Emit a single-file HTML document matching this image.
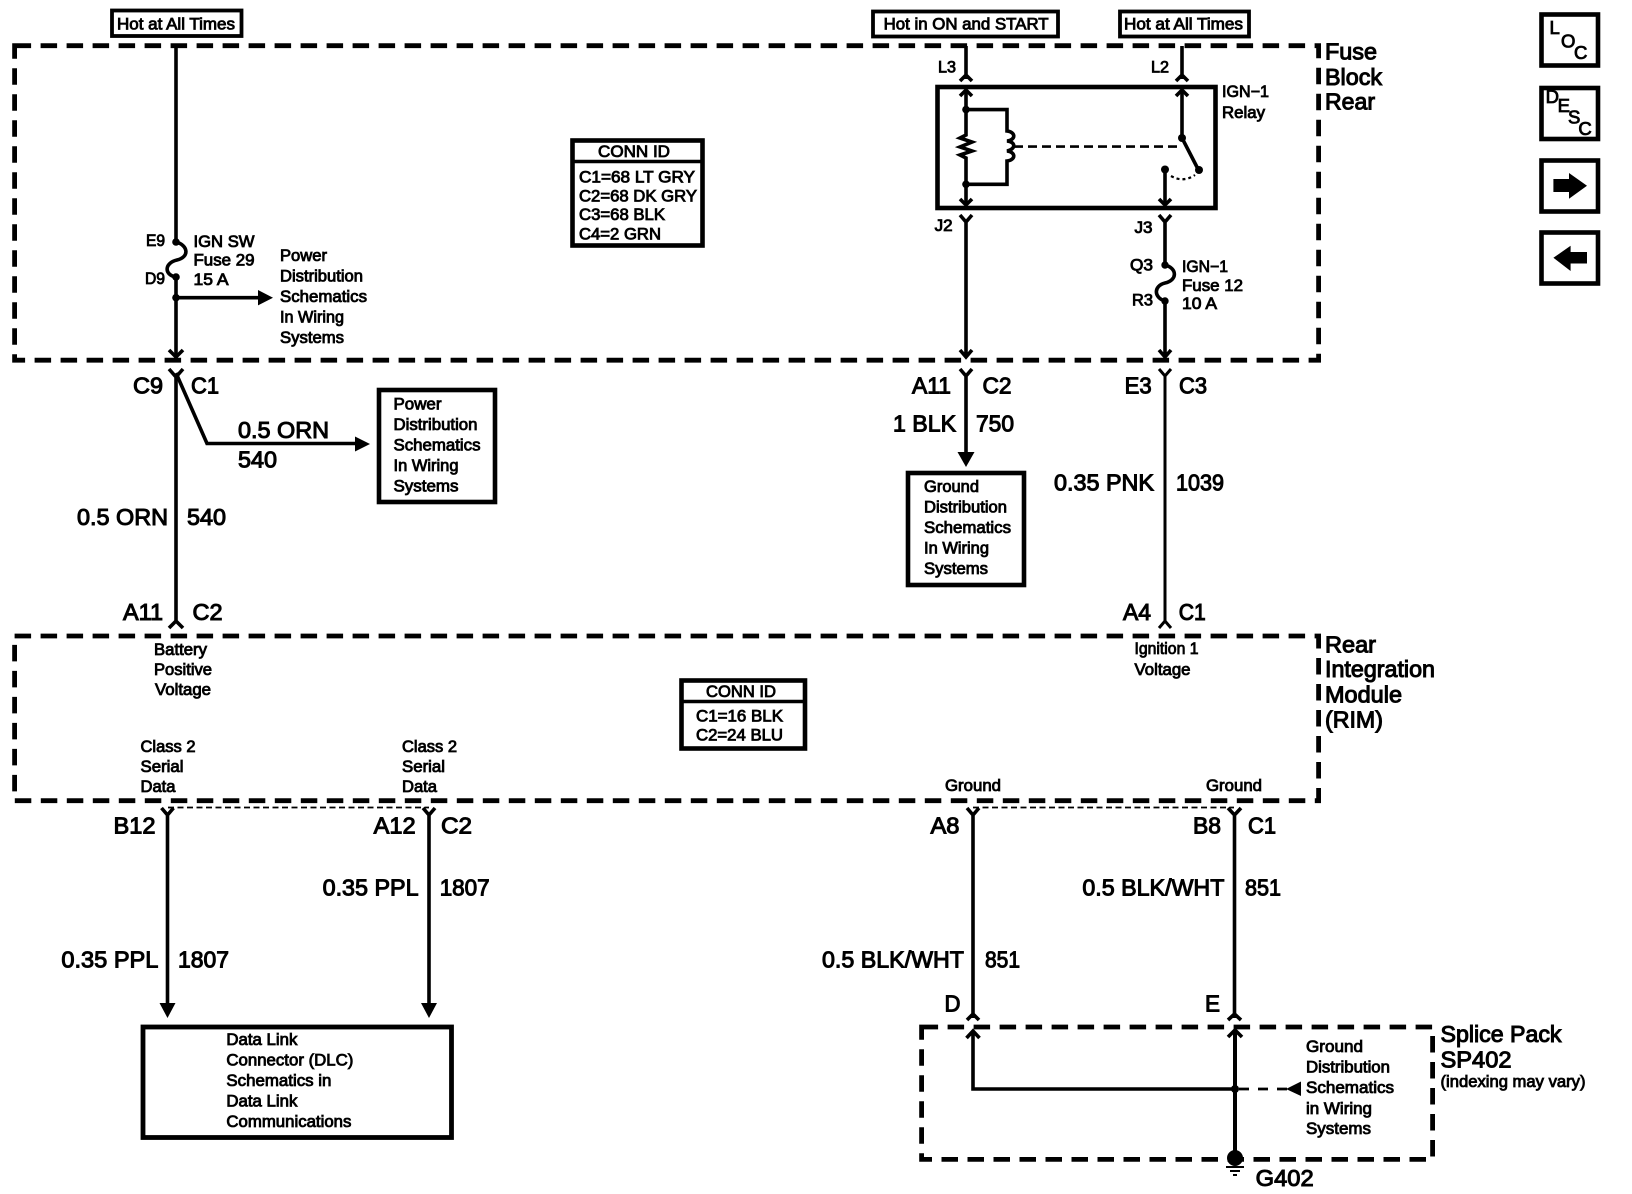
<!DOCTYPE html>
<html><head><meta charset="utf-8"><title>Wiring schematic</title>
<style>
html,body{margin:0;padding:0;background:#fff}
svg{display:block}
text{font-family:"Liberation Sans",sans-serif;fill:#000;stroke:#000}
.s{font-size:16.5px;stroke-width:.85;transform:translateY(-1px)}
.l{font-size:23.5px;stroke-width:1.05;transform:translateY(-.5px)}
.w{fill:none;stroke:#000;stroke-width:3.6}
.t{fill:none;stroke:#000;stroke-width:3}
.b{fill:#fff;stroke:#000;stroke-width:4.6}
.d{fill:none;stroke:#000;stroke-width:4.8;stroke-dasharray:16.5 9.5}
.h{fill:none;stroke:#000;stroke-width:1.7;stroke-dasharray:6 3.5}
.k{fill:#000;stroke:none}
</style></head><body>
<svg width="1632" height="1194" viewBox="0 0 1632 1194" xmlns="http://www.w3.org/2000/svg">
<rect width="1632" height="1194" fill="#fff"/>

<!-- dashed module boxes -->
<rect class="d" x="14.6" y="45.7" width="1304" height="314.5"/>
<rect class="d" x="14.6" y="636" width="1304" height="164.7"/>
<rect class="d" x="921.6" y="1027" width="511" height="132.4"/>
<path class="h" d="M168 807.5H429M973 807.5H1234"/>

<!-- power tags -->
<rect x="112" y="10.5" width="129.5" height="25.5" fill="#fff" stroke="#000" stroke-width="3.8"/>
<rect x="873" y="11.5" width="185" height="25" fill="#fff" stroke="#000" stroke-width="3.8"/>
<rect x="1120" y="11.5" width="129" height="25" fill="#fff" stroke="#000" stroke-width="3.8"/>
<text class="s" x="117" y="30.5" textLength="118" lengthAdjust="spacingAndGlyphs">Hot at All Times</text>
<text class="s" x="883.6" y="30.5" textLength="165" lengthAdjust="spacingAndGlyphs">Hot in ON and START</text>
<text class="s" x="1124" y="30.5" textLength="119" lengthAdjust="spacingAndGlyphs">Hot at All Times</text>

<!-- left wire with fuse -->
<path class="w" d="M176 46V242C188 245 190 257 177 260C164 263 164 275 176 277V358"/>
<circle class="k" cx="176" cy="242" r="3.8"/><circle class="k" cx="176" cy="277" r="3.8"/><circle class="k" cx="176" cy="297.7" r="3.8"/>
<path class="w" d="M176 297.7H260"/><path class="k" d="M273 297.7L258 290V305.4Z"/>
<path class="w" d="M169 350L176 357L183 350"/>
<path class="w" d="M169 369L176 377L183 369M176 375V622M169 628L176 621L183 628"/>
<path class="w" d="M176 373L207 443.5H358"/><path class="k" d="M370 444L355 436.5V451.5Z"/>

<text class="s" x="146" y="247" textLength="19" lengthAdjust="spacingAndGlyphs">E9</text>
<text class="s" x="145" y="285" textLength="20" lengthAdjust="spacingAndGlyphs">D9</text>
<text class="s" x="193.5" y="248" textLength="61" lengthAdjust="spacingAndGlyphs">IGN SW</text>
<text class="s" x="193.5" y="266.5" textLength="61" lengthAdjust="spacingAndGlyphs">Fuse 29</text>
<text class="s" x="193.5" y="286" textLength="35" lengthAdjust="spacingAndGlyphs">15 A</text>
<text class="s" x="280" y="262" textLength="47" lengthAdjust="spacingAndGlyphs">Power</text>
<text class="s" x="280" y="282.5" textLength="83" lengthAdjust="spacingAndGlyphs">Distribution</text>
<text class="s" x="280" y="303" textLength="87" lengthAdjust="spacingAndGlyphs">Schematics</text>
<text class="s" x="280" y="323.5" textLength="64" lengthAdjust="spacingAndGlyphs">In Wiring</text>
<text class="s" x="280" y="344" textLength="64" lengthAdjust="spacingAndGlyphs">Systems</text>

<text class="l" x="133" y="394" textLength="30" lengthAdjust="spacingAndGlyphs">C9</text>
<text class="l" x="191" y="394" textLength="28" lengthAdjust="spacingAndGlyphs">C1</text>
<text class="l" x="238" y="438.6" textLength="91" lengthAdjust="spacingAndGlyphs">0.5 ORN</text>
<text class="l" x="238" y="468" textLength="39" lengthAdjust="spacingAndGlyphs">540</text>
<text class="l" x="77" y="525.4" textLength="91" lengthAdjust="spacingAndGlyphs">0.5 ORN</text>
<text class="l" x="187" y="525.4" textLength="39" lengthAdjust="spacingAndGlyphs">540</text>
<text class="l" x="123" y="620.6" textLength="40" lengthAdjust="spacingAndGlyphs">A11</text>
<text class="l" x="192.5" y="620.6" textLength="30" lengthAdjust="spacingAndGlyphs">C2</text>

<!-- power distribution box -->
<rect class="b" x="379" y="390" width="116" height="112"/>
<text class="s" x="393.5" y="410.4" textLength="48" lengthAdjust="spacingAndGlyphs">Power</text>
<text class="s" x="393.5" y="431" textLength="84" lengthAdjust="spacingAndGlyphs">Distribution</text>
<text class="s" x="393.5" y="451.4" textLength="87" lengthAdjust="spacingAndGlyphs">Schematics</text>
<text class="s" x="393.5" y="472" textLength="65" lengthAdjust="spacingAndGlyphs">In Wiring</text>
<text class="s" x="393.5" y="492.5" textLength="65" lengthAdjust="spacingAndGlyphs">Systems</text>

<!-- conn id 1 -->
<rect class="b" x="572.5" y="140.5" width="130" height="105"/>
<path d="M573 161.5H702" stroke="#000" stroke-width="3.6"/>
<text class="s" x="598" y="158" textLength="72" lengthAdjust="spacingAndGlyphs">CONN ID</text>
<text class="s" x="579" y="183.5" textLength="116" lengthAdjust="spacingAndGlyphs">C1=68 LT GRY</text>
<text class="s" x="579" y="202.5" textLength="118" lengthAdjust="spacingAndGlyphs">C2=68 DK GRY</text>
<text class="s" x="579" y="221" textLength="86" lengthAdjust="spacingAndGlyphs">C3=68 BLK</text>
<text class="s" x="579" y="240.6" textLength="82" lengthAdjust="spacingAndGlyphs">C4=2 GRN</text>

<!-- relay -->
<path class="w" d="M966 46V79M960 81L966 75L972 81M1182 46V79M1176 81L1182 75L1188 81"/>
<text class="s" x="938" y="73.5" textLength="18" lengthAdjust="spacingAndGlyphs">L3</text>
<text class="s" x="1151" y="73.5" textLength="18" lengthAdjust="spacingAndGlyphs">L2</text>
<rect class="b" x="937.5" y="87" width="278" height="121"/>
<path class="w" d="M966 91V135L960 138L972 142L960 147L972 151L960 155L966 158V205"/>
<path class="w" d="M960 96L966 90L972 96M960 199L966 205L972 199M1176 96L1182 90L1188 96M1159 199L1165 205L1171 199"/>
<circle class="k" cx="966" cy="109.6" r="3.8"/><circle class="k" cx="966" cy="184.3" r="3.8"/>
<path class="w" d="M966 109.6H1007V131C1016 132 1016 140 1007 141C1016 142 1016 149 1007 151C1016 152 1016 160 1007 161V184.3H966"/>
<path d="M1014 146.6H1178" fill="none" stroke="#000" stroke-width="2.6" stroke-dasharray="9 5"/>
<path class="w" d="M1182 91V138L1198.5 170M1165 170V205"/>
<circle class="k" cx="1182" cy="138" r="4"/><circle class="k" cx="1199" cy="170" r="4"/><circle class="k" cx="1165" cy="169.5" r="4"/>
<path d="M1171 176Q1183 183 1195 175" fill="none" stroke="#000" stroke-width="2.2" stroke-dasharray="3 3"/>
<text class="s" x="1222" y="98" textLength="47" lengthAdjust="spacingAndGlyphs">IGN−1</text>
<text class="s" x="1222" y="119" textLength="43" lengthAdjust="spacingAndGlyphs">Relay</text>

<path class="w" d="M960 215L966 222L972 215M966 220V357M960 350L966 357L972 350"/>
<path class="w" d="M1159 215L1165 222L1171 215M1165 220V265C1177 268 1178 280 1165 283C1153 286 1154 298 1165 301V357M1159 350L1165 357L1171 350"/>
<circle class="k" cx="1165" cy="265" r="3.7"/><circle class="k" cx="1165" cy="301" r="3.7"/>
<text class="s" x="934.6" y="232" textLength="18" lengthAdjust="spacingAndGlyphs">J2</text>
<text class="s" x="1134.5" y="234" textLength="18" lengthAdjust="spacingAndGlyphs">J3</text>
<text class="s" x="1130" y="271.5" textLength="23" lengthAdjust="spacingAndGlyphs">Q3</text>
<text class="s" x="1132" y="306.5" textLength="21" lengthAdjust="spacingAndGlyphs">R3</text>
<text class="s" x="1182" y="273" textLength="46" lengthAdjust="spacingAndGlyphs">IGN−1</text>
<text class="s" x="1182" y="292" textLength="61" lengthAdjust="spacingAndGlyphs">Fuse 12</text>
<text class="s" x="1182" y="310" textLength="35" lengthAdjust="spacingAndGlyphs">10 A</text>

<text class="l" x="1325" y="60" textLength="52" lengthAdjust="spacingAndGlyphs">Fuse</text>
<text class="l" x="1325" y="85.7" textLength="57" lengthAdjust="spacingAndGlyphs">Block</text>
<text class="l" x="1325" y="110" textLength="50" lengthAdjust="spacingAndGlyphs">Rear</text>

<!-- center wires below fuse block -->
<path class="w" d="M960 369L966 376L972 369M966 374V455"/><path class="k" d="M966 467L957.5 452H974.5Z"/>
<path class="t" d="M1159 369L1165 376L1171 369M1165 374V622M1159 628L1165 621L1171 628"/>
<text class="l" x="912" y="394" textLength="39" lengthAdjust="spacingAndGlyphs">A11</text>
<text class="l" x="982.5" y="394" textLength="29" lengthAdjust="spacingAndGlyphs">C2</text>
<text class="l" x="1124.6" y="394" textLength="27" lengthAdjust="spacingAndGlyphs">E3</text>
<text class="l" x="1179" y="394" textLength="28" lengthAdjust="spacingAndGlyphs">C3</text>
<text class="l" x="893" y="432" textLength="63" lengthAdjust="spacingAndGlyphs">1 BLK</text>
<text class="l" x="976" y="432" textLength="38" lengthAdjust="spacingAndGlyphs">750</text>
<text class="l" x="1054" y="491" textLength="100" lengthAdjust="spacingAndGlyphs">0.35 PNK</text>
<text class="l" x="1176" y="491" textLength="48" lengthAdjust="spacingAndGlyphs">1039</text>
<text class="l" x="1123" y="620.6" textLength="28" lengthAdjust="spacingAndGlyphs">A4</text>
<text class="l" x="1178.7" y="620.6" textLength="27" lengthAdjust="spacingAndGlyphs">C1</text>

<rect class="b" x="908" y="473" width="116" height="112"/>
<text class="s" x="924" y="493" textLength="55" lengthAdjust="spacingAndGlyphs">Ground</text>
<text class="s" x="924" y="513.5" textLength="83" lengthAdjust="spacingAndGlyphs">Distribution</text>
<text class="s" x="924" y="534" textLength="87" lengthAdjust="spacingAndGlyphs">Schematics</text>
<text class="s" x="924" y="554.5" textLength="65" lengthAdjust="spacingAndGlyphs">In Wiring</text>
<text class="s" x="924" y="575" textLength="64" lengthAdjust="spacingAndGlyphs">Systems</text>

<!-- RIM -->
<text class="s" x="154" y="656" textLength="53" lengthAdjust="spacingAndGlyphs">Battery</text>
<text class="s" x="154" y="676" textLength="58" lengthAdjust="spacingAndGlyphs">Positive</text>
<text class="s" x="155" y="696" textLength="56" lengthAdjust="spacingAndGlyphs">Voltage</text>
<text class="s" x="140.5" y="753" textLength="55" lengthAdjust="spacingAndGlyphs">Class 2</text>
<text class="s" x="140.5" y="773" textLength="43" lengthAdjust="spacingAndGlyphs">Serial</text>
<text class="s" x="140.5" y="793" textLength="35" lengthAdjust="spacingAndGlyphs">Data</text>
<text class="s" x="402" y="753" textLength="55" lengthAdjust="spacingAndGlyphs">Class 2</text>
<text class="s" x="402" y="773" textLength="43" lengthAdjust="spacingAndGlyphs">Serial</text>
<text class="s" x="402" y="793" textLength="35" lengthAdjust="spacingAndGlyphs">Data</text>
<text class="s" x="1134.5" y="655" textLength="64" lengthAdjust="spacingAndGlyphs">Ignition 1</text>
<text class="s" x="1134.5" y="675.8" textLength="56" lengthAdjust="spacingAndGlyphs">Voltage</text>
<text class="s" x="945" y="792" textLength="56" lengthAdjust="spacingAndGlyphs">Ground</text>
<text class="s" x="1206" y="792" textLength="56" lengthAdjust="spacingAndGlyphs">Ground</text>

<rect class="b" x="681.5" y="680.5" width="123.5" height="68"/>
<path d="M682 701.5H804" stroke="#000" stroke-width="3.4"/>
<text class="s" x="706" y="698" textLength="70" lengthAdjust="spacingAndGlyphs">CONN ID</text>
<text class="s" x="696" y="722.6" textLength="87" lengthAdjust="spacingAndGlyphs">C1=16 BLK</text>
<text class="s" x="696" y="741.7" textLength="87" lengthAdjust="spacingAndGlyphs">C2=24 BLU</text>

<text class="l" x="1325" y="653" textLength="51" lengthAdjust="spacingAndGlyphs">Rear</text>
<text class="l" x="1325" y="677.7" textLength="110" lengthAdjust="spacingAndGlyphs">Integration</text>
<text class="l" x="1325" y="702.8" textLength="77" lengthAdjust="spacingAndGlyphs">Module</text>
<text class="l" x="1325" y="728" textLength="58" lengthAdjust="spacingAndGlyphs">(RIM)</text>

<!-- data wires -->
<path class="w" d="M161.5 808L167.5 815L173.5 808M167.5 813V1006M423 808L429 815L435 808M429 813V1006"/>
<path class="k" d="M167.5 1018L159.5 1003H175.5ZM429 1018L421 1003H437Z"/>
<text class="l" x="113.5" y="834" textLength="42" lengthAdjust="spacingAndGlyphs">B12</text>
<text class="l" x="373.7" y="834" textLength="42" lengthAdjust="spacingAndGlyphs">A12</text>
<text class="l" x="441" y="834" textLength="31" lengthAdjust="spacingAndGlyphs">C2</text>
<text class="l" x="61.4" y="968" textLength="97" lengthAdjust="spacingAndGlyphs">0.35 PPL</text>
<text class="l" x="178" y="968" textLength="51" lengthAdjust="spacingAndGlyphs">1807</text>
<text class="l" x="322.6" y="896" textLength="96" lengthAdjust="spacingAndGlyphs">0.35 PPL</text>
<text class="l" x="439.7" y="896" textLength="50" lengthAdjust="spacingAndGlyphs">1807</text>

<rect class="b" x="143" y="1027" width="308.5" height="110.5" style="stroke-width:4.8"/>
<text class="s" x="226.4" y="1046" textLength="71" lengthAdjust="spacingAndGlyphs">Data Link</text>
<text class="s" x="226.4" y="1066.6" textLength="127" lengthAdjust="spacingAndGlyphs">Connector (DLC)</text>
<text class="s" x="226.4" y="1087" textLength="105" lengthAdjust="spacingAndGlyphs">Schematics in</text>
<text class="s" x="226.4" y="1107.5" textLength="71" lengthAdjust="spacingAndGlyphs">Data Link</text>
<text class="s" x="226.4" y="1128" textLength="125" lengthAdjust="spacingAndGlyphs">Communications</text>

<!-- ground wires -->
<path class="w" d="M967 808L973 815L979 808M973 813V1018M967 1020L973 1014L979 1020"/>
<path class="w" d="M1228 808L1234.5 815L1241 808M1234.5 813V1018M1228 1020L1234.5 1014L1241 1020"/>
<text class="l" x="930.5" y="834" textLength="29" lengthAdjust="spacingAndGlyphs">A8</text>
<text class="l" x="1193" y="834" textLength="28" lengthAdjust="spacingAndGlyphs">B8</text>
<text class="l" x="1248" y="834" textLength="28" lengthAdjust="spacingAndGlyphs">C1</text>
<text class="l" x="1082.4" y="896" textLength="142" lengthAdjust="spacingAndGlyphs">0.5 BLK/WHT</text>
<text class="l" x="1245" y="896" textLength="36" lengthAdjust="spacingAndGlyphs">851</text>
<text class="l" x="822" y="968" textLength="142" lengthAdjust="spacingAndGlyphs">0.5 BLK/WHT</text>
<text class="l" x="985" y="968" textLength="35" lengthAdjust="spacingAndGlyphs">851</text>
<text class="l" x="944.5" y="1012" textLength="16" lengthAdjust="spacingAndGlyphs">D</text>
<text class="l" x="1205" y="1012" textLength="15" lengthAdjust="spacingAndGlyphs">E</text>

<!-- splice pack -->
<path class="w" d="M973 1031V1089H1235M966.5 1038L973 1031L979.5 1038"/>
<path d="M1235 1030V1158" fill="none" stroke="#000" stroke-width="4"/>
<path d="M1228 1037L1235 1030L1242 1037" class="w"/>
<circle class="k" cx="1235" cy="1089" r="4"/>
<path d="M1239 1089H1290" fill="none" stroke="#000" stroke-width="2.8" stroke-dasharray="10 9"/>
<path class="k" d="M1286 1089L1301 1081.5V1096Z"/>
<circle class="k" cx="1235" cy="1158" r="8"/>
<path d="M1226 1167H1244M1230 1171H1240M1233 1175H1237" stroke="#000" stroke-width="2" fill="none"/>
<text class="l" x="1255.7" y="1186.4" textLength="58" lengthAdjust="spacingAndGlyphs">G402</text>
<text class="s" x="1306" y="1053" textLength="57" lengthAdjust="spacingAndGlyphs">Ground</text>
<text class="s" x="1306" y="1073.7" textLength="84" lengthAdjust="spacingAndGlyphs">Distribution</text>
<text class="s" x="1306" y="1094" textLength="88" lengthAdjust="spacingAndGlyphs">Schematics</text>
<text class="s" x="1306" y="1115" textLength="66" lengthAdjust="spacingAndGlyphs">in Wiring</text>
<text class="s" x="1306" y="1135" textLength="65" lengthAdjust="spacingAndGlyphs">Systems</text>
<text class="l" x="1440.5" y="1042.5" textLength="121" lengthAdjust="spacingAndGlyphs">Splice Pack</text>
<text class="l" x="1440.5" y="1068" textLength="71" lengthAdjust="spacingAndGlyphs">SP402</text>
<text class="s" x="1440.5" y="1088" textLength="145" lengthAdjust="spacingAndGlyphs">(indexing may vary)</text>

<!-- side icons -->
<rect class="b" x="1541.5" y="14.5" width="56.5" height="51"/>
<rect class="b" x="1541.5" y="88" width="56.5" height="51"/>
<rect class="b" x="1541.5" y="160.5" width="56.5" height="51"/>
<rect class="b" x="1541.5" y="232.5" width="56.5" height="51"/>
<text class="s" style="font-size:18.5px" x="1549.5" y="35">L</text>
<text class="s" style="font-size:18.5px" x="1561" y="48.6">O</text>
<text class="s" style="font-size:18.5px" x="1574" y="60">C</text>
<text class="s" style="font-size:18.5px" x="1545.6" y="103.8">D</text>
<text class="s" style="font-size:18.5px" x="1557.6" y="113">E</text>
<text class="s" style="font-size:18.5px" x="1568" y="124.7">S</text>
<text class="s" style="font-size:18.5px" x="1578.4" y="136">C</text>
<path class="k" d="M1553.4 179H1569V173L1587 185.8L1569 198.7V192H1553.4Z"/>
<path class="k" d="M1587 252H1570.6V245.8L1553.4 257.8L1570.6 271V263.5H1587Z"/>
</svg>
</body></html>
